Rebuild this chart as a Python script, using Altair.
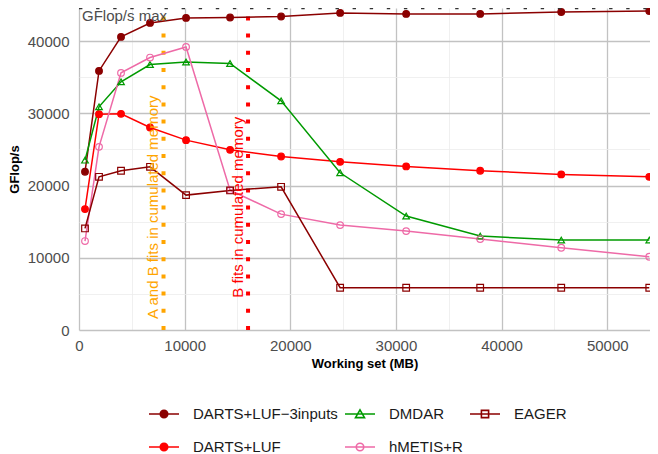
import altair as alt
import pandas as pd

# ---------------- data ----------------
x_mb = [568, 1894, 3977, 6723, 10133, 14299, 19129, 24716, 30966, 37973, 45644, 53977]

# order chosen so that the 3-column legend reads like the reference (column-major fill)
series_names = ["DARTS+LUF\u22123inputs", "DARTS+LUF", "DMDAR", "hMETIS+R", "EAGER"]
darts_luf_3inputs = [21900, 35860, 40570, 42500, 43200, 43250, 43390, 43890, 43750, 43750, 44020, 44160]
darts_luf = [16740, 29880, 29920, 28030, 26280, 24940, 24020, 23280, 22640, 22040, 21540, 21200]
dmdar = [23510, 30890, 34350, 36750, 37100, 36890, 31720, 21760, 15770, 13000, 12450, 12450]
hmetis_r = [12310, 25350, 35590, 37710, 39180, 19360, 16040, 14520, 13690, 12590, 11380, 10140]
eager = [14060, 21200, 22040, 22590, 18670, 19320, 19820, 5850, 5850, 5850, 5850, 5850]
series_values = [darts_luf_3inputs, darts_luf, dmdar, hmetis_r, eager]

stroke_colors = ["#8b0000", "#ff0000", "#009a00", "#ee6aa7", "#8b0000"]
fill_colors = ["#8b0000", "#ff0000", "transparent", "transparent", "transparent"]
point_shapes = ["circle", "circle", "triangle-up", "circle", "square"]
CIRCLE_KEY = "M-1,0H1M-0.25,0A0.25,0.25 0 1,0 0.25,0A0.25,0.25 0 1,0 -0.25,0Z"
legend_paths = [
    CIRCLE_KEY,
    CIRCLE_KEY,
    "M-1,0H1M0,-0.28L0.3,0.24L-0.3,0.24Z",
    CIRCLE_KEY,
    "M-1,0H1M-0.24,-0.24H0.24V0.24H-0.24Z",
]

gflops_max = 44600
max_label = "GFlop/s max"
vline_x = [8000, 16000]
vline_colors = ["#ffa500", "#ff0000"]
vline_labels = ["A and B fits in cumulated memory", "B fits in cumulated memory"]
vline_label_y = [17000, 17000]

x_domain = [0, 54046]
y_domain = [0, 44570]

# ---------------- tables ----------------
rows = []
for name, vals in zip(series_names, series_values):
    for xv, yv in zip(x_mb, vals):
        rows.append({"series": name, "x": xv, "y": yv})
df = pd.DataFrame(rows)

vdf = pd.DataFrame({"x": vline_x, "y0": [y_domain[0]] * 2, "y1": [y_domain[1]] * 2,
                    "c": vline_colors, "label": vline_labels, "ly": vline_label_y})
hdf = pd.DataFrame({"x0": [x_domain[0]], "x1": [x_domain[1]], "y": [gflops_max], "label": [max_label]})

FONT = "Liberation Sans"

xscale = alt.Scale(domain=x_domain, nice=False, zero=False)
yscale = alt.Scale(domain=y_domain, nice=False, zero=False)

grid_color = {"condition": {"test": "datum.value % 10000 === 0", "value": "#c2c2c2"}, "value": "#ececec"}
grid_width = {"condition": {"test": "datum.value % 10000 === 0", "value": 1.3}, "value": 0.8}

xaxis = alt.Axis(values=list(range(0, 54001, 5000)),
                 labelExpr="datum.value % 10000 === 0 ? format(datum.value, 'd') : ''",
                 gridColor=grid_color, gridWidth=grid_width, labelFlush=False,
                 title="Working set (MB)", titleFontWeight="bold", titleFontSize=13,
                 titleColor="#000000", titlePadding=4, labelPadding=8)
yaxis = alt.Axis(values=list(range(0, 45001, 5000)),
                 labelExpr="datum.value % 10000 === 0 ? format(datum.value, 'd') : ''",
                 gridColor=grid_color, gridWidth=grid_width, labelFlush=False,
                 title="GFlop/s", titleFontWeight="bold", titleFontSize=13,
                 titleColor="#000000", titlePadding=6, labelPadding=10)

legend = alt.Legend(title=None, orient="none", legendX=69, legendY=390, columns=3,
                    symbolSize=900, symbolStrokeWidth=1.6, labelFontSize=15,
                    labelColor="#1a1a1a", labelFont=FONT, labelOffset=13,
                    columnPadding=3, rowPadding=9, padding=0, symbolOpacity=1)

base = alt.Chart(df)

lines = base.mark_line(strokeWidth=1.5).encode(
    x=alt.X("x:Q", scale=xscale, axis=xaxis),
    y=alt.Y("y:Q", scale=yscale, axis=yaxis),
    color=alt.Color("series:N", scale=alt.Scale(domain=series_names, range=stroke_colors), legend=None),
    detail="series:N",
)

points = base.mark_point(filled=False, size=44, strokeWidth=1.2, opacity=1).encode(
    x="x:Q",
    y="y:Q",
    stroke=alt.Stroke("series:N", scale=alt.Scale(domain=series_names, range=stroke_colors), legend=None),
    fill=alt.Fill("series:N", scale=alt.Scale(domain=series_names, range=fill_colors), legend=None),
    shape=alt.Shape("series:N", scale=alt.Scale(domain=series_names, range=point_shapes), legend=None),
)

# invisible layer that only provides the legend (line + marker keys)
legend_layer = base.mark_point(filled=False, size=0, strokeWidth=0, opacity=1).encode(
    x="x:Q",
    y="y:Q",
    stroke=alt.Stroke("series:N", scale=alt.Scale(domain=series_names, range=stroke_colors), legend=legend),
    fill=alt.Fill("series:N", scale=alt.Scale(domain=series_names, range=fill_colors), legend=legend),
    shape=alt.Shape("series:N", scale=alt.Scale(domain=series_names, range=legend_paths), legend=legend),
)

vrules = alt.Chart(vdf).mark_rule(strokeWidth=4, strokeDash=[4, 13.2], strokeCap="butt").encode(
    x="x:Q", y="y0:Q", y2="y1:Q",
    color=alt.Color("c:N", scale=None, legend=None),
)
vtext = alt.Chart(vdf).mark_text(angle=270, align="center", baseline="alphabetic", dy=-5.5,
                                 fontSize=15, font=FONT).encode(
    x="x:Q", y="ly:Q", text="label:N",
    color=alt.Color("c:N", scale=None, legend=None),
)
hrule = alt.Chart(hdf).mark_rule(strokeWidth=3, strokeDash=[3.4, 13.7], strokeCap="butt",
                                 color="#333333").encode(
    x="x0:Q", x2="x1:Q", y="y:Q",
)
htext = alt.Chart(hdf).mark_text(align="left", baseline="alphabetic", dx=3, dy=13,
                                 fontSize=15, font=FONT, color="#4d4d4d").encode(
    x="x0:Q", y="y:Q", text="label:N",
)

chart = alt.layer(vrules, lines, points, legend_layer, hrule, htext, vtext).resolve_scale(
    shape="independent", stroke="independent", fill="independent"
).properties(
    width=571, height=322,
    autosize=alt.AutoSizeParams(type="none"),
    padding={"left": 71, "top": 0, "right": 0, "bottom": 132},
).configure(font=FONT).configure_view(stroke=None).configure_axis(
    domain=False, ticks=False, labelFontSize=15, labelColor="#4d4d4d", labelFont=FONT,
    titleFont=FONT,
)

chart.save("out.html", embed_options={"renderer": "svg", "actions": False})
